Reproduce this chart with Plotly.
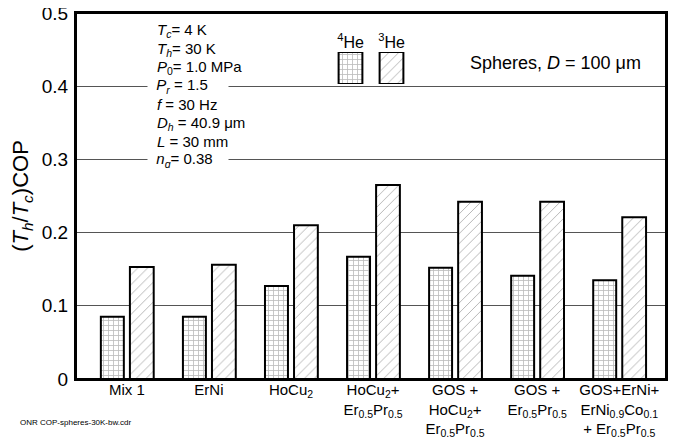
import plotly.graph_objects as go

categories = [
    "Mix 1",
    "ErNi",
    "HoCu<sub>2</sub>",
    "HoCu<sub>2</sub>+<br>Er<sub>0.5</sub>Pr<sub>0.5</sub>",
    "GOS +<br>HoCu<sub>2</sub>+<br>Er<sub>0.5</sub>Pr<sub>0.5</sub>",
    "GOS +<br>Er<sub>0.5</sub>Pr<sub>0.5</sub>",
    "GOS+ErNi+<br>ErNi<sub>0.9</sub>Co<sub>0.1</sub><br>+ Er<sub>0.5</sub>Pr<sub>0.5</sub>",
]
he4_values = [0.085, 0.085, 0.127, 0.167, 0.152, 0.141, 0.135]
he3_values = [0.153, 0.156, 0.210, 0.265, 0.242, 0.242, 0.221]
y_ticks = [0, 0.1, 0.2, 0.3, 0.4, 0.5]
y_tick_labels = ["0", "0.1", "0.2", "0.3", "0.4", "0.5"]

param_lines = [
    "<i>T<sub>c</sub></i>= 4 K",
    "<i>T<sub>h</sub></i>= 30 K",
    "<i>P</i><sub>0</sub>= 1.0 MPa",
    "<i>P<sub>r</sub></i> = 1.5",
    "<i>f</i> = 30 Hz",
    "<i>D<sub>h</sub></i> = 40.9 \u03bcm",
    "<i>L</i> = 30 mm",
    "<i>n<sub>g</sub></i>= 0.38",
]
legend_labels = ["<sup>4</sup>He", "<sup>3</sup>He"]

FONT = "Liberation Sans, Arial, sans-serif"
OFF = 8  # page body margin
WIN_W, WIN_H = 684, 447
W, H = WIN_W - 2 * OFF, WIN_H - 2 * OFF
# desired plot area in window pixels: x 76..666, y 13..379
ML = 76 - OFF
MT = 13 - OFF
MR = W - (666 - OFF)
MB = H - (379 - OFF)
PW, PH = W - ML - MR, H - MT - MB


def px_to_fx(px):
    return (px - OFF - ML) / PW


def py_to_fy(py):
    return (H - MB - (py - OFF)) / PH


he4_marker = dict(color="white", line=dict(color="black", width=2),
                  pattern=dict(shape="+", fgcolor="#777", bgcolor="white", size=5, solidity=0.3))
he3_marker = dict(color="white", line=dict(color="black", width=2),
                  pattern=dict(shape="/", fgcolor="#555", bgcolor="white", size=7, solidity=0.12))

fig = go.Figure()
fig.add_trace(go.Bar(x=categories, y=he4_values, name="4He", offset=-0.317, width=0.28,
                     marker=he4_marker, showlegend=False))
fig.add_trace(go.Bar(x=categories, y=he3_values, name="3He", offset=0.037, width=0.29,
                     marker=he3_marker, showlegend=False))

# legend key swatches on an auxiliary axis
fig.add_trace(go.Bar(x=[0], y=[1], xaxis="x2", yaxis="y2", width=0.58,
                     marker=he4_marker, showlegend=False, hoverinfo="skip"))
fig.add_trace(go.Bar(x=[1], y=[1], xaxis="x2", yaxis="y2", width=0.58,
                     marker=he3_marker, showlegend=False, hoverinfo="skip"))

annotations = []
y0 = 0.476
step = 0.0253
for i, t in enumerate(param_lines):
    ann = dict(
        x=px_to_fx(156), xref="paper", y=y0 - i * step, yref="y",
        text=t, showarrow=False, xanchor="left", yanchor="middle",
        align="left", borderpad=0,
        font=dict(family=FONT, size=15, color="black"),
    )
    if i in (3, 7):
        ann["x"] = px_to_fx(147)
        ann["bgcolor"] = "white"
        ann["width"] = 80
        ann["height"] = 16
        ann["text"] = "\u00a0\u00a0" + t
    annotations.append(ann)

annotations.append(dict(
    x=px_to_fx(643), xref="paper", y=py_to_fy(63), yref="paper",
    text="Spheres, <i>D</i> = 100 \u03bcm", showarrow=False,
    xanchor="right", yanchor="middle",
    font=dict(family=FONT, size=18, color="black"),
))
annotations.append(dict(
    x=px_to_fx(18), xref="paper", y=py_to_fy(422), yref="paper",
    text="ONR COP-spheres-30K-bw.cdr", showarrow=False,
    xanchor="left", yanchor="middle",
    font=dict(family=FONT, size=8, color="black"),
))

fig.update_layout(
    width=W, height=H,
    margin=dict(l=ML, r=MR, t=MT, b=MB, autoexpand=False),
    paper_bgcolor="white", plot_bgcolor="rgba(0,0,0,0)",
    barmode="overlay",
    font=dict(family=FONT, color="black"),
    annotations=annotations,
    shapes=[dict(type="rect", xref="paper", yref="paper", x0=0, x1=1, y0=0, y1=1,
                 line=dict(color="black", width=2), fillcolor="rgba(0,0,0,0)", layer="above")],
    xaxis=dict(
        type="category", range=[-0.62, 6.57], automargin=False,
        showline=True, linecolor="black", linewidth=2, mirror=True,
        showgrid=False, ticks="", tickfont=dict(size=15, family=FONT),
        ticklabeloverflow="allow", ticklabelstandoff=-4, fixedrange=True,
    ),
    yaxis=dict(
        range=[0, 0.5], tickvals=y_ticks, ticktext=y_tick_labels, automargin=False,
        showline=True, linecolor="black", linewidth=2, mirror=True,
        showgrid=True, gridcolor="#555", gridwidth=1, zeroline=False,
        ticks="", tickfont=dict(size=19, family=FONT), ticklabeloverflow="allow",
        ticklabelstandoff=2,
        title=dict(text="(<i>T<sub>h</sub></i>/<i>T<sub>c</sub></i>)COP",
                   font=dict(size=22, family=FONT), standoff=10),
    ),
    xaxis2=dict(
        domain=[px_to_fx(330), px_to_fx(412)], anchor="y2", automargin=False,
        range=[-0.5, 1.5], tickvals=[0, 1], ticktext=legend_labels,
        side="top", showgrid=False, zeroline=False, showline=False,
        ticks="", tickfont=dict(size=16, family=FONT),
    ),
    yaxis2=dict(
        domain=[py_to_fy(84), py_to_fy(52)], anchor="x2", automargin=False,
        range=[0, 1], visible=False, showgrid=False,
    ),
)

fig.write_html("out.html")
